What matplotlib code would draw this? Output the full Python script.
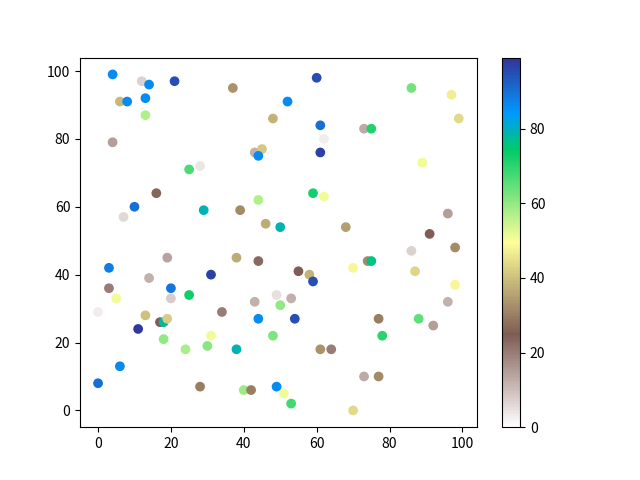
import matplotlib
matplotlib.use("Agg")
import matplotlib.pyplot as plt

plt.rcParams['font.family'] = ['Noto Sans CJK SC', 'DejaVu Sans']

# point positions and colour values
xs = [4, 12, 14, 21, 6, 8, 13, 13, 4, 25, 28, 37, 60, 52, 48, 61, 62, 61, 43, 45,
      44, 86, 97, 99, 73, 75, 89, 16, 10, 7, 29, 19, 3, 14, 31, 3, 20, 25, 5, 20,
      44, 39, 46, 50, 59, 62, 68, 38, 44, 55, 58, 59, 49, 53, 43, 50, 70, 96, 91, 98,
      86, 74, 75, 87, 98, 96, 0, 13, 11, 17, 18, 19, 18, 24, 30, 31, 6, 0, 28, 34,
      44, 54, 48, 38, 61, 64, 40, 42, 49, 51, 53, 70, 77, 88, 92, 78, 73, 77]
ys = [99, 97, 96, 97, 91, 91, 92, 87, 79, 71, 72, 95, 98, 91, 86, 84, 80, 76, 76, 77,
      75, 95, 93, 86, 83, 83, 73, 64, 60, 57, 59, 45, 42, 39, 40, 36, 36, 34, 33, 33,
      62, 59, 55, 54, 64, 63, 54, 45, 44, 41, 40, 38, 34, 33, 32, 31, 42, 58, 52, 48,
      47, 44, 44, 41, 37, 32, 29, 28, 24, 26, 26, 27, 21, 18, 19, 22, 13, 8, 7, 29,
      27, 27, 22, 18, 18, 18, 6, 6, 7, 5, 2, 0, 27, 27, 25, 22, 10, 10]
vals = [86, 7, 86, 95, 39, 86, 86, 57, 15, 67, 4, 33, 95, 86, 38, 90, 3, 97, 12, 41,
        86, 63, 47, 44, 13, 71, 51, 26, 90, 6, 79, 14, 88, 12, 97, 20, 89, 73, 51, 8,
        57, 32, 37, 79, 72, 51, 35, 37, 23, 25, 38, 95, 5, 12, 12, 60, 48, 15, 25, 32,
        7, 32, 76, 43, 48, 12, 3, 40, 98, 25, 78, 42, 60, 58, 61, 51, 87, 90, 30, 20,
        86, 95, 62, 79, 33, 20, 59, 30, 86, 51, 68, 44, 30, 65, 15, 70, 13, 32]

fig = plt.figure(figsize=(6.4, 4.8), dpi=100)
plt.scatter(xs, ys, c=vals, cmap='terrain_r', vmin=0, vmax=99)
plt.colorbar()
plt.savefig('out.png')
